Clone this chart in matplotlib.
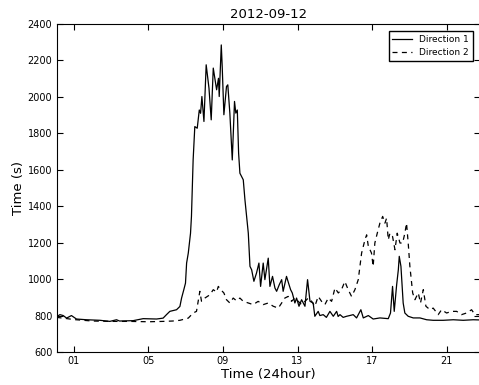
import matplotlib
matplotlib.use('Agg')
import matplotlib.pyplot as plt

# Direction 1 (solid) - hour of day, travel time (s)
hours_1 = [0.07, 0.10, 0.25, 0.43, 0.61, 0.87, 1.14, 1.68, 2.40, 2.93, 3.29, 3.45, 4.18,
           4.72, 5.44, 5.79, 5.97, 6.15, 6.51, 6.69, 6.78, 6.90, 6.99, 7.05, 7.14, 7.26,
           7.31, 7.40, 7.49, 7.62, 7.73, 7.80, 7.87, 7.98, 8.10, 8.25, 8.37, 8.48, 8.66,
           8.76, 8.80, 8.91, 8.96, 9.05, 9.19, 9.26, 9.37, 9.50, 9.62, 9.69, 9.77, 9.84,
           9.91, 10.09, 10.18, 10.36, 10.45, 10.54, 10.66, 10.80, 10.93, 11.02, 11.16,
           11.25, 11.43, 11.52, 11.66, 11.79, 11.88, 12.02, 12.15, 12.23, 12.41, 12.52,
           12.63, 12.72, 12.86, 12.95, 13.08, 13.22, 13.40, 13.54, 13.67, 13.84, 13.93,
           14.11, 14.20, 14.38, 14.55, 14.74, 14.92, 15.10, 15.18, 15.28, 15.45, 15.63,
           15.80, 15.99, 16.17, 16.40, 16.53, 16.80, 17.06, 17.42, 17.87, 17.99, 18.10,
           18.19, 18.32, 18.41, 18.46, 18.55, 18.67, 18.76, 18.94, 19.21, 19.57, 19.93,
           20.28, 20.82, 21.36, 21.89, 22.43, 22.77]
time_1 = [760, 795, 805, 800, 786, 800, 781, 777, 774, 768, 777, 770, 772,
          783, 781, 786, 805, 823, 832, 850, 896, 942, 978, 1088, 1143, 1252,
          1344, 1654, 1837, 1828, 1928, 1910, 2002, 1865, 2176, 2048, 1874, 2158, 2039,
          2102, 2002, 2285, 2166, 1902, 2057, 2066, 1911, 1654, 1975, 1911, 1928, 1691,
          1581, 1545, 1435, 1252, 1070, 1051, 988, 1033, 1088, 960, 1088,
          997, 1115, 960, 1015, 951, 933, 969, 997, 933, 1015, 978,
          942, 924, 869, 896, 851, 887, 851, 997, 878, 869, 796,
          823, 800, 805, 790, 823, 796, 823, 795, 805, 790, 796,
          800, 805, 787, 832, 787, 800, 781, 787, 783, 814, 960,
          823, 969, 1051, 1125, 1070, 869, 814, 796, 787, 787, 777,
          774, 774, 777, 774, 777, 776]

# Direction 2 (dashed)
hours_2 = [0.07, 0.50, 1.00, 2.00, 3.00, 4.00, 5.00, 5.80, 6.30, 6.69, 7.14, 7.40, 7.58,
           7.76, 7.85, 8.03, 8.30, 8.48, 8.66, 8.75, 8.92, 9.05, 9.19, 9.37, 9.55, 9.73,
           9.91, 10.09, 10.36, 10.62, 10.89, 11.16, 11.43, 11.70, 11.97, 12.15, 12.32,
           12.50, 12.68, 12.86, 13.04, 13.22, 13.40, 13.58, 13.76, 13.93, 14.11, 14.29,
           14.47, 14.65, 14.83, 15.01, 15.19, 15.36, 15.54, 15.72, 15.90, 16.08, 16.26,
           16.44, 16.62, 16.71, 16.80, 16.89, 16.97, 17.06, 17.15, 17.28, 17.42, 17.57,
           17.69, 17.78, 17.87, 17.96, 18.10, 18.23, 18.35, 18.50, 18.64, 18.76, 18.85,
           18.94, 19.03, 19.18, 19.30, 19.48, 19.60, 19.75, 19.89, 20.11, 20.28, 20.55,
           20.73, 21.00, 21.27, 21.54, 21.80, 22.07, 22.34, 22.52, 22.77]
time_2 = [790, 785, 778, 770, 768, 768, 766, 768, 770, 774, 786, 814, 823,
          933, 878, 896, 914, 942, 929, 960, 938, 924, 887, 869, 896, 881,
          896, 878, 869, 860, 878, 860, 869, 851, 841, 869, 896,
          905, 878, 896, 878, 860, 878, 896, 878, 851, 905, 878,
          860, 896, 878, 951, 924, 942, 987, 942, 905, 942, 997,
          1143, 1216, 1243, 1180, 1161, 1143, 1070, 1198, 1252, 1307, 1344,
          1307, 1334, 1216, 1252, 1234, 1161, 1252, 1198, 1198, 1252, 1307,
          1198, 1070, 924, 887, 924, 869, 942, 851, 832, 841, 805,
          832, 814, 823, 823, 805, 814, 832, 805, 805]

plt.rcParams['font.family'] = 'DejaVu Sans'

fig = plt.figure(figsize=(4.79, 3.85), dpi=100)
ax = fig.add_axes([0.118, 0.0857, 0.884, 0.852])

ax.plot(hours_1, time_1, color='k', linestyle='-', linewidth=0.9, label='Direction 1')
ax.plot(hours_2, time_2, color='k', linestyle='--', dashes=(4, 3.5), linewidth=0.9,
        label='Direction 2')

ax.set_xlim(0.07, 22.79)
ax.set_ylim(600, 2400)
ax.set_xticks([1, 5, 9, 13, 17, 21])
ax.set_xticklabels(['01', '05', '09', '13', '17', '21'])
ax.set_yticks(range(600, 2401, 200))
ax.tick_params(direction='in', top=True, right=True, labelsize=7, length=4, pad=3)

ax.set_title('2012-09-12', fontsize=9.5, pad=4)
ax.set_xlabel('Time (24hour)', fontsize=9.5, labelpad=1)
ax.set_ylabel('Time (s)', fontsize=9.5, labelpad=2)

ax.legend(loc='upper right', fontsize=6.5, fancybox=False, edgecolor='k',
          framealpha=1, borderaxespad=0.8, handlelength=2.2)

fig.savefig('out.png', dpi=100)
plt.close(fig)
